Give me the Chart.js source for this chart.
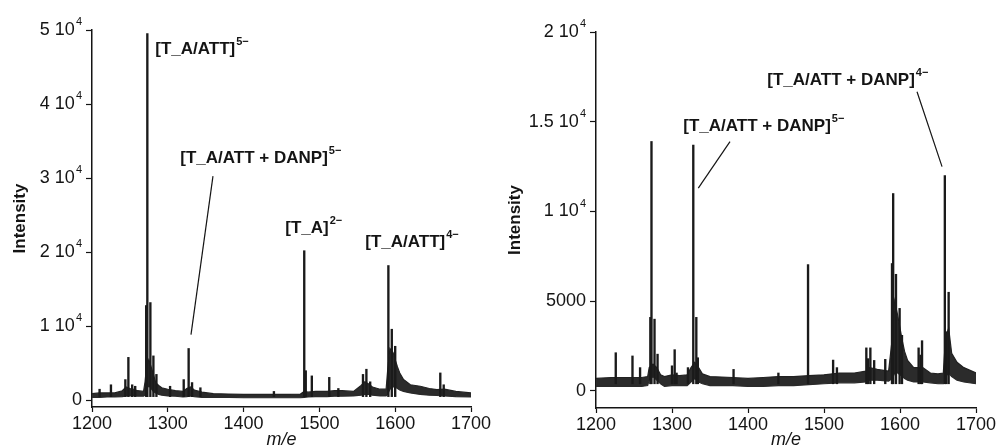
<!DOCTYPE html>
<html>
<head>
<meta charset="utf-8">
<script src="https://cdn.jsdelivr.net/npm/chart.js@4/dist/chart.umd.min.js"></script>
<style>
	html, body { margin: 0; padding: 0; background: #fff; }
	#wrap { position: relative; width: 998px; height: 447px; overflow: hidden; }
	#wrap canvas { position: absolute; top: 0; }
	#spec-left { left: 0; }
	#spec-right { left: 499px; }
</style>
</head>
<body>
<div id="wrap">
	<canvas id="spec-left" width="499" height="447"></canvas>
	<canvas id="spec-right" width="499" height="447"></canvas>
</div>
<script>
'use strict';

/*================ Data ================*/

var xTicks = [1200, 1300, 1400, 1500, 1600, 1700];

// Left spectrum
var leftYTicks = [0, 10000, 20000, 30000, 40000, 50000];
var leftYTickLabels = ['0', '1 10^4', '2 10^4', '3 10^4', '4 10^4', '5 10^4'];
var leftBandMz = [1200, 1210, 1220, 1230, 1240, 1245, 1250, 1255, 1260, 1268, 1270, 1272, 1275, 1278, 1281, 1284, 1288, 1292, 1300, 1310, 1320, 1325, 1330, 1335, 1345, 1360, 1380, 1400, 1420, 1440, 1460, 1475, 1480, 1485, 1495, 1510, 1520, 1530, 1545, 1555, 1560, 1565, 1570, 1580, 1588, 1590, 1593, 1597, 1600, 1603, 1606, 1611, 1620, 1633, 1645, 1655, 1665, 1680, 1700];
var leftBandLow = [400, 400, 450, 450, 500, 600, 600, 600, 550, 550, 700, 1500, 2000, 1600, 1200, 1000, 800, 700, 600, 550, 450, 500, 600, 500, 400, 400, 400, 350, 350, 350, 350, 350, 400, 450, 500, 500, 550, 550, 600, 700, 800, 800, 700, 600, 600, 800, 1500, 1800, 1800, 1600, 1400, 1200, 1000, 800, 700, 650, 600, 500, 450];
var leftBandHigh = [900, 1000, 1000, 1000, 1300, 1800, 1600, 1500, 1300, 1200, 2500, 4600, 5500, 4500, 3500, 2400, 2000, 1700, 1500, 1300, 1200, 1600, 1800, 1400, 1100, 900, 850, 800, 800, 800, 800, 850, 1200, 1100, 1200, 1200, 1300, 1300, 1200, 2000, 2500, 2200, 1800, 1500, 1500, 4000, 7000, 6500, 5500, 4500, 3700, 2800, 2100, 1900, 1600, 1450, 1500, 1200, 1000];
var leftPeakMz = [1210, 1225, 1244, 1248, 1253, 1257, 1271.5, 1273, 1277, 1281, 1285, 1303, 1321, 1327.5, 1332, 1343, 1440, 1480, 1482, 1490, 1513, 1525, 1557.5, 1562, 1567, 1591, 1595.5, 1600, 1659.5, 1664];
var leftPeakTop = [1500, 2100, 2800, 5800, 2100, 1900, 12800, 49500, 13200, 6000, 3500, 1900, 2800, 7000, 2400, 1700, 1200, 20200, 4000, 3300, 3100, 1600, 3500, 4200, 2500, 18200, 9600, 7300, 3700, 2100];

// Right spectrum
var rightYTicks = [0, 5000, 10000, 15000, 20000];
var rightYTickLabels = ['0', '5000', '1 10^4', '1.5 10^4', '2 10^4'];
var rightBandMz = [1200, 1220, 1240, 1260, 1268, 1270, 1275, 1280, 1285, 1290, 1300, 1310, 1320, 1325, 1330, 1335, 1340, 1350, 1380, 1400, 1420, 1440, 1460, 1480, 1500, 1520, 1540, 1555, 1560, 1570, 1585, 1590, 1593, 1597, 1600, 1603, 1606, 1610, 1618, 1625, 1630, 1640, 1650, 1657, 1660, 1664, 1668, 1675, 1684, 1700];
var rightBandLow = [250, 250, 250, 250, 300, 600, 800, 600, 400, 250, 300, 300, 300, 500, 700, 500, 400, 300, 300, 250, 250, 300, 300, 350, 400, 450, 450, 500, 600, 600, 550, 700, 1000, 1000, 900, 800, 700, 600, 500, 500, 500, 450, 400, 400, 800, 1000, 800, 600, 500, 400];
var rightBandHigh = [700, 750, 750, 750, 800, 1300, 1500, 1300, 900, 800, 900, 850, 900, 1300, 1600, 1300, 950, 800, 750, 700, 750, 800, 800, 850, 900, 1000, 1000, 1100, 1300, 1200, 1100, 3000, 5000, 4200, 3500, 2800, 2200, 1700, 1300, 1300, 1300, 1000, 950, 1000, 3000, 3500, 2100, 1600, 1300, 1000];
var rightPeakMz = [1226, 1248, 1258, 1271.5, 1273, 1277, 1281, 1300, 1303.5, 1306, 1321, 1328, 1332, 1334, 1381, 1440, 1479, 1512, 1517, 1555.7, 1558, 1561, 1566, 1580.6, 1589.5, 1591, 1594.7, 1599.5, 1602.6, 1624.5, 1627, 1629, 1659, 1661, 1664];
var rightPeakTop = [2130, 1950, 1300, 4100, 13900, 4000, 2050, 1400, 2300, 1000, 1300, 13700, 4100, 1850, 1200, 1000, 7040, 1720, 1300, 2400, 1800, 2400, 1700, 1760, 7100, 11000, 6500, 4600, 3100, 2400, 2000, 2800, 12000, 3300, 5500];

// Peak labels, anchored in data units (m/e, intensity)
var leftLabels = [
	{ text: '[T_A/ATT]', sup: '5\u2212', mz: 1283.5, y: 46700 },
	{ text: '[T_A/ATT + DANP]', sup: '5\u2212', mz: 1316.5, y: 32100 },
	{ text: '[T_A]', sup: '2\u2212', mz: 1455, y: 22600 },
	{ text: '[T_A/ATT]', sup: '4\u2212', mz: 1560.5, y: 20700 }
];
var leftLeaders = [ [1359.6, 30270, 1330.6, 8880] ];

var rightLabels = [
	{ text: '[T_A/ATT + DANP]', sup: '4\u2212', mz: 1425.4, y: 17040 },
	{ text: '[T_A/ATT + DANP]', sup: '5\u2212', mz: 1314.9, y: 14480 }
];
var rightLeaders = [ [1622.4, 16670, 1655.3, 12500], [1376.3, 13890, 1334.6, 11300] ];

/*================ Helpers ================*/

var FONT = '"Liberation Sans", Arial, Helvetica, sans-serif';
var INK = '#141414';

Chart.defaults.font.family = FONT;
Chart.defaults.color = INK;

function toPoints(xs, ys) {
	return xs.map(function(x, i) { return { x: x, y: ys[i] }; });
}

function toSticks(xs, tops, base) {
	return xs.map(function(x, i) { return { x: x, y: [base, tops[i]] }; });
}

// Draws y tick labels (with superscript exponents) and the peak labels.
var spectrumDecor = {
	id: 'spectrumDecor',
	afterDraw: function(chart, args, opts) {
		var ctx = chart.ctx;
		var xs = chart.scales.x;
		var ys = chart.scales.y;
		var right = chart.chartArea.left - 10;

		ctx.save();
		ctx.fillStyle = INK;
		ctx.textBaseline = 'middle';
		ctx.textAlign = 'left';
		opts.yTicks.forEach(function(v, i) {
			var parts = opts.yLabels[i].split('^');
			var py = ys.getPixelForValue(v);
			ctx.font = '18px ' + FONT;
			var w1 = ctx.measureText(parts[0]).width;
			var w2 = 0;
			if (parts[1]) {
				ctx.font = '11px ' + FONT;
				w2 = ctx.measureText(parts[1]).width + 1;
			}
			ctx.font = '18px ' + FONT;
			ctx.fillText(parts[0], right - w2 - w1, py);
			if (parts[1]) {
				ctx.font = '11px ' + FONT;
				ctx.fillText(parts[1], right - w2 + 1, py - 8);
			}
		});

		ctx.strokeStyle = INK;
		ctx.lineWidth = 1.2;
		opts.leaders.forEach(function(l) {
			ctx.beginPath();
			ctx.moveTo(xs.getPixelForValue(l[0]), ys.getPixelForValue(l[1]));
			ctx.lineTo(xs.getPixelForValue(l[2]), ys.getPixelForValue(l[3]));
			ctx.stroke();
		});

		ctx.textBaseline = 'alphabetic';
		opts.labels.forEach(function(lab) {
			var px = xs.getPixelForValue(lab.mz);
			var py = ys.getPixelForValue(lab.y);
			ctx.font = 'bold 17px ' + FONT;
			ctx.fillText(lab.text, px, py);
			var w = ctx.measureText(lab.text).width;
			ctx.font = 'bold 11px ' + FONT;
			ctx.fillText(lab.sup, px + w + 1, py - 9);
		});
		ctx.restore();
	}
};

function makeSpectrum(canvasId, cfg) {
	var ctx = document.getElementById(canvasId).getContext('2d');
	return new Chart(ctx, {
		type: 'bar',
		data: {
			datasets: [ {
				type: 'bar',
				data: toSticks(cfg.peakMz, cfg.peakTop, cfg.stickBase),
				backgroundColor: '#1a1a1a',
				borderWidth: 0,
				barThickness: 1.7,
				grouped: false
			}, {
				type: 'line',
				data: toPoints(cfg.bandMz, cfg.bandLow),
				borderColor: '#2a2a2a',
				borderWidth: 1.2,
				pointRadius: 0,
				tension: 0,
				fill: false
			}, {
				type: 'line',
				data: toPoints(cfg.bandMz, cfg.bandHigh),
				borderColor: '#222222',
				borderWidth: 1.2,
				backgroundColor: '#2b2b2b',
				pointRadius: 0,
				tension: 0,
				fill: '-1'
			} ]
		},
		options: {
			responsive: false,
			animation: false,
			events: [],
			layout: {
				padding: cfg.padding
			},
			scales: {
				x: {
					type: 'linear',
					min: 1200,
					max: 1700,
					offset: false,
					afterBuildTicks: function(scale) {
						scale.ticks = xTicks.map(function(v) { return { value: v }; });
					},
					afterFit: function(scale) {
						scale.height = cfg.xHeight;
					},
					border: { display: true, color: INK, width: 1.5 },
					grid: {
						offset: false,
						drawOnChartArea: false,
						drawTicks: true,
						tickLength: 5,
						tickWidth: 1.2,
						color: INK
					},
					ticks: {
						autoSkip: false,
						maxRotation: 0,
						padding: 1,
						font: { size: 18 },
						color: INK,
						callback: function(value) { return String(value); }
					},
					title: {
						display: true,
						text: 'm/e',
						font: { size: 18, style: 'italic' },
						color: INK,
						padding: { top: 0, bottom: -4 }
					}
				},
				y: {
					min: cfg.yMin,
					max: cfg.yMax,
					afterBuildTicks: function(scale) {
						scale.ticks = cfg.yTicks.map(function(v) { return { value: v }; });
					},
					afterFit: function(scale) {
						scale.width = cfg.yWidth;
					},
					border: { display: true, color: INK, width: 1.5 },
					grid: {
						drawOnChartArea: false,
						drawTicks: true,
						tickLength: 6,
						tickWidth: 1.2,
						color: INK
					},
					ticks: { display: false },
					title: {
						display: true,
						text: 'Intensity',
						font: { size: 17, weight: 'bold' },
						color: INK,
						padding: { top: cfg.yTitlePad, bottom: 0 }
					}
				}
			},
			plugins: {
				legend: { display: false },
				tooltip: { enabled: false },
				spectrumDecor: {
					yTicks: cfg.yTicks,
					yLabels: cfg.yLabels,
					labels: cfg.labels,
					leaders: cfg.leaders
				}
			}
		},
		plugins: [ spectrumDecor ]
	});
}

/*================ Charts ================*/

makeSpectrum('spec-left', {
	peakMz: leftPeakMz,
	peakTop: leftPeakTop,
	stickBase: 500,
	bandMz: leftBandMz,
	bandLow: leftBandLow,
	bandHigh: leftBandHigh,
	yMin: -900,
	yMax: 50000,
	yTicks: leftYTicks,
	yLabels: leftYTickLabels,
	labels: leftLabels,
	leaders: leftLeaders,
	padding: { top: 30, right: 28, left: 0, bottom: 0 },
	xHeight: 40,
	yWidth: 92,
	yTitlePad: 10
});

makeSpectrum('spec-right', {
	peakMz: rightPeakMz,
	peakTop: rightPeakTop,
	stickBase: 400,
	bandMz: rightBandMz,
	bandLow: rightBandLow,
	bandHigh: rightBandHigh,
	yMin: -950,
	yMax: 20000,
	yTicks: rightYTicks,
	yLabels: rightYTickLabels,
	labels: rightLabels,
	leaders: rightLeaders,
	padding: { top: 32, right: 22, left: 0, bottom: 0 },
	xHeight: 39,
	yWidth: 97,
	yTitlePad: 6
});
</script>
</body>
</html>
